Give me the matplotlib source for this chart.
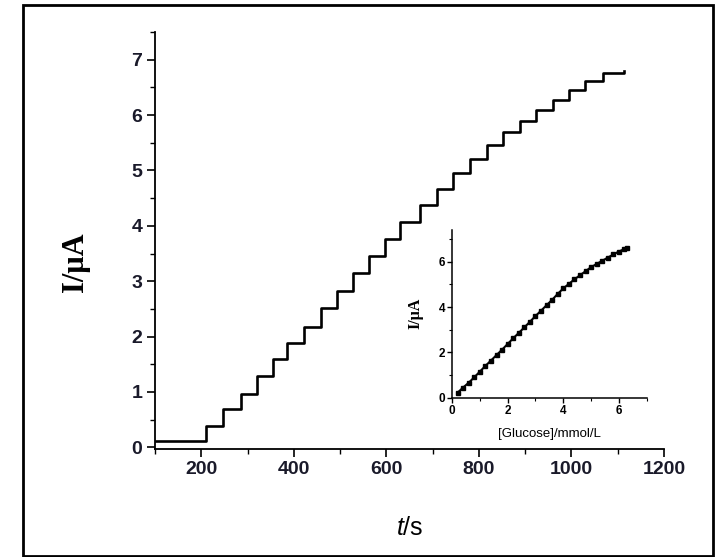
import matplotlib
matplotlib.use("Agg")
import matplotlib.pyplot as plt
from matplotlib.patches import Rectangle
from matplotlib.ticker import MultipleLocator

# ---- main chart data: step times (s) and current levels (uA) ----
step_times = [102, 210, 246, 285, 320, 354, 386, 421, 458, 493, 527, 563, 597,
              630, 673, 709, 743, 780, 818, 852, 888, 924, 960, 994, 1030, 1069, 1113]
step_levels = [0.12, 0.39, 0.69, 0.97, 1.28, 1.59, 1.88, 2.17, 2.51, 2.82, 3.14, 3.45, 3.76,
               4.07, 4.38, 4.67, 4.95, 5.21, 5.46, 5.70, 5.90, 6.09, 6.27, 6.46, 6.61, 6.76, 6.80]

# ---- inset data: calibration ----
glucose = [0.2, 0.4, 0.6, 0.8, 1.0, 1.2, 1.4, 1.6, 1.8, 2.0, 2.2, 2.4, 2.6, 2.8, 3.0, 3.2,
           3.4, 3.6, 3.8, 4.0, 4.2, 4.4, 4.6, 4.8, 5.0, 5.2, 5.4, 5.6, 5.8, 6.0, 6.2, 6.3]
current = [0.22, 0.45, 0.66, 0.90, 1.15, 1.40, 1.64, 1.88, 2.12, 2.37, 2.62, 2.86, 3.10, 3.35,
           3.60, 3.84, 4.08, 4.32, 4.58, 4.82, 5.02, 5.22, 5.40, 5.58, 5.76, 5.90, 6.04, 6.18,
           6.32, 6.45, 6.56, 6.62]

main_xticks = [200, 400, 600, 800, 1000, 1200]
main_yticks = [0, 1, 2, 3, 4, 5, 6, 7]
inset_xticks = [0, 2, 4, 6]
inset_yticks = [0, 2, 4, 6]

plt.rcParams['font.family'] = ['Liberation Sans', 'DejaVu Sans']
plt.rcParams['mathtext.fontset'] = 'custom'
plt.rcParams['mathtext.it'] = 'Liberation Sans:italic'
plt.rcParams['mathtext.rm'] = 'Liberation Sans'

fig = plt.figure(figsize=(7.18, 5.57), dpi=100)
fig.patches.append(Rectangle((22.5/718, 1.5/557), (713-22.5)/718, (555-4)/557,
                             transform=fig.transFigure, fill=False,
                             edgecolor='black', linewidth=2.0))

ax = fig.add_axes([155/718, 1-449/557, (664-155)/718, (449-32)/557])
ax.plot(step_times, step_levels, drawstyle='steps-post', color='black', lw=1.9)
ax.set_xlim(100, 1200)
ax.set_ylim(-0.03, 7.5)
for s in ['top', 'right']:
    ax.spines[s].set_visible(False)
for s in ['left', 'bottom']:
    ax.spines[s].set_linewidth(1.3)
ax.set_xticks(main_xticks)
ax.set_yticks(main_yticks)
ax.xaxis.set_minor_locator(MultipleLocator(100))
ax.yaxis.set_minor_locator(MultipleLocator(0.5))
ax.tick_params(which='major', direction='out', length=6, width=1.2, labelsize=14, pad=3,
               labelcolor='#1a1a2a')
ax.tick_params(which='minor', direction='out', length=3.5, width=1.0)
for lab in ax.get_xticklabels() + ax.get_yticklabels():
    lab.set_fontweight('bold')
ax.set_ylabel('I/μA', family=['Liberation Serif', 'DejaVu Serif'], fontsize=22,
              fontweight='bold')
ax.yaxis.set_label_coords(-0.128, 0.448)
ax.set_xlabel(r'$\mathit{t}$/s', fontsize=18, labelpad=27)

ins = fig.add_axes([452/718, 1-397.7/557, (646.7-452)/718, (397.7-230)/557])
ins.plot(glucose, current, color='black', lw=1.5, marker='s', ms=2.8)
ins.set_xlim(0, 7)
ins.set_ylim(0, 7.4)
for s in ['top', 'right']:
    ins.spines[s].set_visible(False)
for s in ['left', 'bottom']:
    ins.spines[s].set_linewidth(1.1)
ins.set_xticks(inset_xticks)
ins.set_yticks(inset_yticks)
ins.xaxis.set_minor_locator(MultipleLocator(1))
ins.yaxis.set_minor_locator(MultipleLocator(1))
ins.tick_params(which='major', direction='out', length=3.5, width=1.0, labelsize=8.5, pad=1.5)
ins.tick_params(which='minor', direction='out', length=2, width=0.8)
for lab in ins.get_xticklabels() + ins.get_yticklabels():
    lab.set_fontweight('bold')
ins.set_ylabel('I/μA', family=['Liberation Serif', 'DejaVu Serif'], fontsize=11.5,
               fontweight='bold', labelpad=11)
ins.set_xlabel('[Glucose]/mmol/L', fontsize=9.5, labelpad=8)

fig.savefig('out.png', dpi=100)
